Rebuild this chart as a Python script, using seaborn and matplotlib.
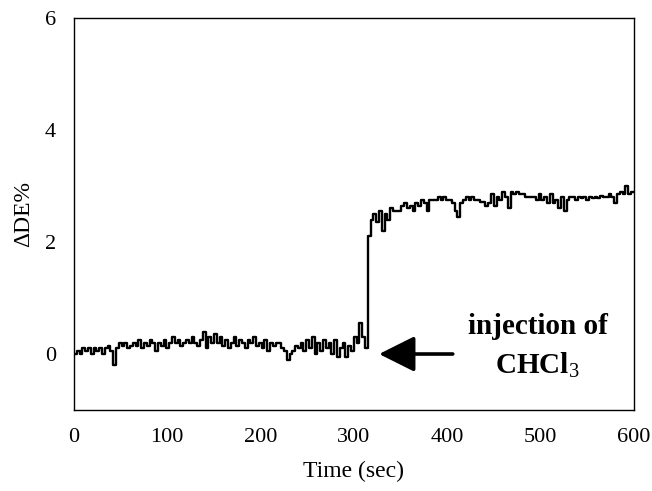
import numpy as np
import pandas as pd
import matplotlib
matplotlib.use("Agg")
import matplotlib.pyplot as plt
import seaborn as sns

# ---- data ----
t_before = np.arange(0, 313, 3)      # sampling grid before injection (sec)
de_before = [
    0.0, 0.05, 0.0, 0.1, 0.05, 0.1, 0.0, 0.1, 0.05, 0.1, 0.0,
    0.1, 0.15, 0.05, -0.2, 0.1, 0.2, 0.15, 0.2, 0.1, 0.15,
    0.2, 0.15, 0.25, 0.1, 0.2, 0.15, 0.25, 0.2, 0.05, 0.2,
    0.15, 0.25, 0.1, 0.2, 0.3, 0.2, 0.25, 0.15, 0.2, 0.25,
    0.2, 0.3, 0.2, 0.15, 0.25, 0.4, 0.1, 0.3, 0.2, 0.35,
    0.2, 0.3, 0.15, 0.25, 0.1, 0.2, 0.3, 0.15, 0.25, 0.2,
    0.1, 0.25, 0.2, 0.3, 0.15, 0.2, 0.1, 0.25, 0.05, 0.2,
    0.15, 0.2, 0.2, 0.1, 0.05, -0.1, 0.0, 0.05, 0.15, 0.1,
    0.2, 0.05, 0.25, 0.1, 0.3, 0.0, 0.2, 0.05, 0.25, 0.1,
    0.2, 0.0, 0.25, -0.05, 0.1, 0.2, -0.05, 0.15, 0.05, 0.3,
    0.2, 0.55, 0.3, 0.1,
]
t_after = np.arange(315, 601, 3)     # sampling grid after injection (sec)
de_after = [
    2.1, 2.4, 2.5, 2.35, 2.55, 2.2, 2.5, 2.4, 2.6, 2.55,
    2.55, 2.55, 2.65, 2.7, 2.6, 2.65, 2.55, 2.7, 2.65, 2.75,
    2.7, 2.55, 2.75, 2.75, 2.75, 2.8, 2.75, 2.8, 2.75, 2.75,
    2.7, 2.55, 2.45, 2.7, 2.75, 2.8, 2.75, 2.8, 2.75, 2.75,
    2.72, 2.72, 2.65, 2.7, 2.85, 2.65, 2.8, 2.75, 2.9, 2.8,
    2.6, 2.9, 2.85, 2.9, 2.85, 2.85, 2.8, 2.8, 2.8, 2.8,
    2.75, 2.85, 2.75, 2.8, 2.7, 2.85, 2.7, 2.75, 2.6, 2.8,
    2.55, 2.75, 2.8, 2.8, 2.75, 2.8, 2.78, 2.8, 2.75, 2.8,
    2.78, 2.8, 2.78, 2.82, 2.8, 2.8, 2.85, 2.8, 2.7, 2.85,
    2.9, 2.85, 3.0, 2.85, 2.9, 2.9,
]
assert len(t_before) == len(de_before), (len(t_before), len(de_before))
assert len(t_after) == len(de_after), (len(t_after), len(de_after))

x_ticks = [0, 100, 200, 300, 400, 500, 600]
y_ticks = [0, 2, 4, 6]
x_label = "Time (sec)"
y_label = "ΔDE%"
note_line1 = "injection of"
note_line2 = "CHCl$_3$"

df = pd.DataFrame({
    "time": np.concatenate([t_before, t_after]),
    "de": np.concatenate([de_before, de_after]),
})

# ---- plot ----
sns.set_style("white")
plt.rcParams["font.family"] = ["Liberation Serif", "DejaVu Serif"]
plt.rcParams["mathtext.fontset"] = "custom"
plt.rcParams["mathtext.rm"] = "Liberation Serif"
plt.rcParams["mathtext.bf"] = "Liberation Serif:bold"
plt.rcParams["text.color"] = "black"
plt.rcParams["axes.labelcolor"] = "black"
plt.rcParams["xtick.color"] = "black"
plt.rcParams["ytick.color"] = "black"

fig = plt.figure(figsize=(6.52, 4.91), dpi=100)
ax = fig.add_axes([0.1135, 0.165, 0.8585, 0.798])

sns.lineplot(data=df, x="time", y="de", ax=ax, color="black",
             linewidth=1.7, estimator=None, drawstyle="steps-post")

ax.set_xlim(0, 600)
ax.set_ylim(-1, 6)
ax.set_xticks(x_ticks)
ax.set_yticks(y_ticks)
ax.tick_params(axis="both", direction="out", length=6, width=1,
               labelsize=16, color="black", labelcolor="black", pad=7)
for s in ax.spines.values():
    s.set_visible(True)
    s.set_color("black")
    s.set_linewidth(1.0)

ax.set_xlabel(x_label, fontsize=17, labelpad=10)
ax.set_ylabel(y_label, fontsize=17, labelpad=8)

ax.annotate("", xy=(327, 0.0), xytext=(406, 0.0),
            arrowprops=dict(arrowstyle="-|>,head_length=1.0,head_width=0.5",
                            color="black", lw=2.6, mutation_scale=22,
                            shrinkA=0, shrinkB=0))
ax.text(497, 0.5, note_line1, ha="center", va="center", fontsize=21,
        fontweight="bold", color="black")
ax.text(497, -0.2, note_line2, ha="center", va="center", fontsize=21,
        fontweight="bold", color="black")

fig.savefig("out.png", dpi=100, facecolor="white")
